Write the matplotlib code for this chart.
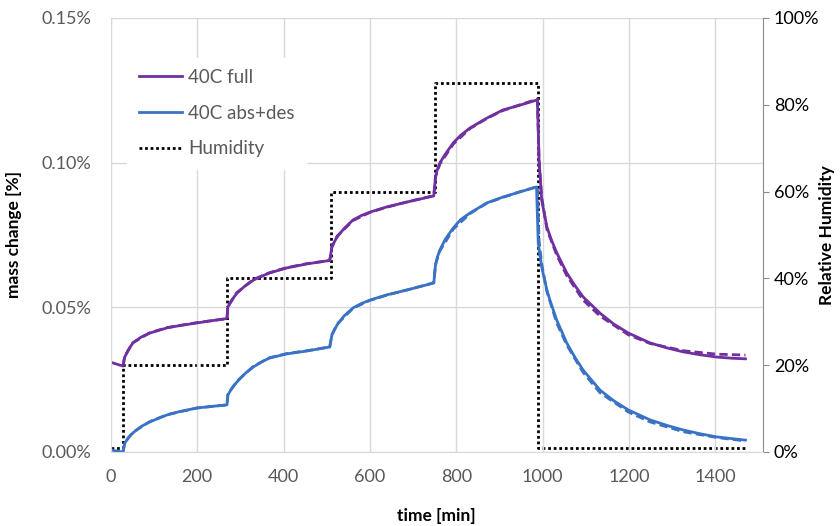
import matplotlib.pyplot as plt
from matplotlib.ticker import FuncFormatter, MultipleLocator

# measured mass change, 40C full cycle [%]
t_full = [0, 15, 28, 32, 40, 51, 70, 90, 130, 160, 199, 230, 264, 269,
          271, 280, 292, 310, 330, 350, 368, 407, 454, 507,
          512, 518, 524, 540, 561, 580, 600, 639, 686, 748,
          752, 756, 762, 775, 793, 810, 832, 871, 908, 948, 988,
          992, 998, 1010, 1020, 1033, 1056, 1075, 1094, 1133, 1165, 1199,
          1249, 1290, 1326, 1365, 1404, 1440, 1470]
m_full = [0.0310, 0.0303, 0.0297, 0.0328, 0.0352, 0.0377, 0.0397, 0.0411, 0.0429,
          0.0437, 0.0446, 0.0453, 0.0460, 0.0463,
          0.0501, 0.0525, 0.0549, 0.0573, 0.0594, 0.0608, 0.0619, 0.0636, 0.0650, 0.0662,
          0.0708, 0.0727, 0.0743, 0.0772, 0.0802, 0.0817, 0.0829, 0.0847, 0.0864, 0.0885,
          0.0950, 0.0975, 0.0999, 0.1030, 0.1068, 0.1094, 0.1120, 0.1154, 0.1182,
          0.1199, 0.1217,
          0.1009, 0.0871, 0.0778, 0.0735, 0.0688, 0.0619, 0.0575, 0.0536, 0.0480,
          0.0442, 0.0411, 0.0377, 0.0359, 0.0346, 0.0336, 0.0328, 0.0324, 0.0322]

# measured mass change, 40C abs+des [%]
t_ad = [0, 15, 28, 32, 40, 51, 70, 90, 130, 160, 199, 230, 264, 269,
        271, 280, 292, 310, 330, 350, 368, 407, 454, 507,
        512, 518, 524, 540, 561, 580, 600, 639, 686, 748,
        752, 756, 762, 775, 793, 810, 832, 871, 908, 948, 986,
        990, 998, 1010, 1017, 1033, 1056, 1075, 1094, 1133, 1165, 1199,
        1249, 1290, 1326, 1365, 1404, 1440, 1470]
m_ad = [0.0007, 0.0003, 0.0000, 0.0030, 0.0049, 0.0066, 0.0088, 0.0104, 0.0128,
        0.0140, 0.0152, 0.0157, 0.0162, 0.0163,
        0.0197, 0.0220, 0.0242, 0.0270, 0.0294, 0.0312, 0.0325, 0.0339, 0.0349, 0.0363,
        0.0404, 0.0422, 0.0439, 0.0470, 0.0498, 0.0513, 0.0525, 0.0543, 0.0560, 0.0584,
        0.0646, 0.0672, 0.0698, 0.0736, 0.0774, 0.0803, 0.0826, 0.0861, 0.0881,
        0.0899, 0.0916,
        0.0722, 0.0639, 0.0560, 0.0525, 0.0455, 0.0377, 0.0327, 0.0283, 0.0214,
        0.0177, 0.0145, 0.0111, 0.0091, 0.0076, 0.0063, 0.0052, 0.0046, 0.0041]

# model fits (dashed)
t_fit = [28, 32, 51, 90, 130, 199, 264, 269, 271, 292, 330, 368, 407, 454, 507,
         512, 524, 561, 600, 639, 686, 748, 752, 762, 793, 832, 871, 908, 948, 988,
         992, 998, 1010, 1033, 1056, 1094, 1133, 1199, 1249, 1326, 1404, 1470]
fit_full = [0.0297, 0.0330, 0.0378, 0.0412, 0.0430, 0.0447, 0.0460, 0.0463, 0.0503,
            0.0551, 0.0596, 0.0620, 0.0637, 0.0651, 0.0662, 0.0710, 0.0746, 0.0800,
            0.0828, 0.0846, 0.0864, 0.0886, 0.0952, 0.0995, 0.1064, 0.1118, 0.1153,
            0.1180, 0.1200, 0.1220, 0.1000, 0.0880, 0.0770, 0.0680, 0.0610, 0.0525,
            0.0470, 0.0405, 0.0375, 0.0350, 0.0338, 0.0335]
fit_ad = [0.0000, 0.0032, 0.0068, 0.0105, 0.0129, 0.0152, 0.0162, 0.0163, 0.0199,
          0.0245, 0.0296, 0.0326, 0.0340, 0.0350, 0.0363, 0.0406, 0.0442, 0.0497,
          0.0524, 0.0542, 0.0560, 0.0585, 0.0648, 0.0695, 0.0770, 0.0824, 0.0860,
          0.0880, 0.0900, 0.0917, 0.0730, 0.0650, 0.0555, 0.0445, 0.0370, 0.0275,
          0.0205, 0.0138, 0.0104, 0.0070, 0.0050, 0.0038]

# relative humidity steps [%]
t_rh = [0, 28, 269, 510, 750, 990, 1470]
rh = [1, 20, 40, 60, 85, 1, 1]

purple = "#7030A0"
blue = "#3A72C6"
grey = "#595959"

plt.rcParams["font.family"] = ["Lato", "DejaVu Sans"]

fig = plt.figure(figsize=(8.4, 5.26), dpi=100)
ax = fig.add_axes([0.132, 0.1407, 0.776, 0.8251])
ax2 = ax.twinx()

l1, = ax.plot(t_full, m_full, color=purple, lw=2, label="40C full")
l2, = ax.plot(t_ad, m_ad, color=blue, lw=2, label="40C abs+des")
ax.plot(t_fit, fit_full, color=purple, lw=2, ls=(0, (3, 1.5)))
ax.plot(t_fit, fit_ad, color=blue, lw=2, ls=(0, (3, 1.5)))
l3, = ax2.step(t_rh, rh, where="post", color="black", lw=2, ls=(0, (1, 1)),
               label="Humidity")

ax.set_xlim(0, 1510)
ax.set_ylim(0, 0.15)
ax2.set_ylim(0, 100)

ax.xaxis.set_major_locator(MultipleLocator(200))
ax.yaxis.set_major_locator(MultipleLocator(0.05))
ax2.yaxis.set_major_locator(MultipleLocator(20))
ax.yaxis.set_major_formatter(FuncFormatter(lambda v, p: f"{v:.2f}%"))
ax2.yaxis.set_major_formatter(FuncFormatter(lambda v, p: f"{v:.0f}%"))

ax.grid(True, color="#D9D9D9", lw=1)
ax.set_axisbelow(True)
for a in (ax, ax2):
    for s in a.spines.values():
        s.set_visible(False)
ax.spines["left"].set_visible(True)
ax.spines["bottom"].set_visible(True)
ax.spines["left"].set_color("#D9D9D9")
ax.spines["bottom"].set_color("#D9D9D9")
ax2.spines["right"].set_visible(True)
ax2.spines["right"].set_color("#8C8C8C")

ax.tick_params(axis="both", length=0, labelsize=13, labelcolor=grey)
ax.tick_params(axis="x", pad=12)
ax.tick_params(axis="y", pad=14)
ax2.tick_params(axis="y", length=4, color="#8C8C8C", labelsize=13,
                labelcolor="black", pad=4)

ax.set_xlabel("time [min]", fontsize=12.5, fontweight="bold")
ax.set_ylabel("mass change [%]", fontsize=12.5, fontweight="bold")
ax2.set_ylabel("Relative Humidity", fontsize=12.5, fontweight="bold")
ax.xaxis.set_label_coords(0.5, -0.129)
ax.yaxis.set_label_coords(-0.137, 0.5)
ax2.yaxis.set_label_coords(1.087, 0.5)

leg = ax.legend(handles=[l1, l2, l3], loc="upper left",
                bbox_to_anchor=(0.011, 0.930), frameon=True, fontsize=13.5,
                handlelength=2.3, handletextpad=0.35, labelspacing=1.0,
                borderpad=0.6, fancybox=False)
leg.get_frame().set_facecolor("white")
leg.get_frame().set_edgecolor("white")
leg.get_frame().set_alpha(1)
for txt in leg.get_texts():
    txt.set_color(grey)
leg.set_zorder(5)
ax.set_zorder(ax2.get_zorder() + 1)
ax.patch.set_visible(False)

fig.savefig("out.png", dpi=100)
